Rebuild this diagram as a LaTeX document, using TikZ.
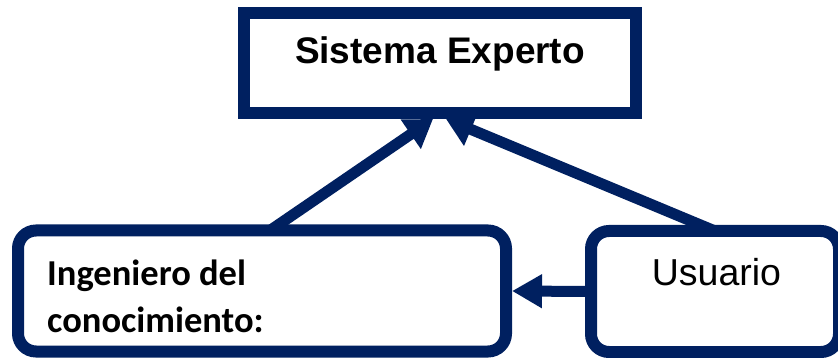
\documentclass[tikz,border=0pt]{standalone}
\usepackage{fontspec}
\setmainfont{Liberation Sans}
\newfontfamily\calfont{Carlito}
\usetikzlibrary{arrows.meta,backgrounds}
\definecolor{navy}{RGB}{0,32,96}
\tikzset{
  framebox/.style={draw=navy, line width=12pt, fill=white, inner sep=0pt},
  roundbox/.style={framebox, rounded corners=18pt},
  link/.style={draw=navy, line width=11pt},
  uptip/.style={-{Triangle[length=27pt,width=34pt]}},
  sidetip/.style={-{Triangle[length=30pt,width=32pt]}},
  label/.style={inner sep=0pt, text=black}
}
\begin{document}
\begin{tikzpicture}[x=1pt, y=-1pt]
  \useasboundingbox (0,0) rectangle (838,358);

  % boxes
  \node[framebox, minimum width=392pt, minimum height=100pt] (se) at (440,63) {};
  \node[roundbox, minimum width=488pt, minimum height=121pt] (ing) at (262,291) {};
  \node[roundbox, minimum width=248pt, minimum height=121pt] (usr) at (715,291.5) {};

  % texts
  \node[label, anchor=base,
        font={\fontsize{37}{44}\selectfont\bfseries}] (seT) at (440,64)
    {Sistema Experto};
  \node[label, anchor=base,
        font={\fontsize{37.5}{44}\selectfont}] (usrT) at (716.5,285)
    {Usuario};
  \node[label, anchor=north west, align=left,
        font={\calfont\fontsize{36.5}{47}\selectfont\bfseries}] (ingT) at (47,260)
    {Ingeniero del\\conocimiento:};

  % connectors, behind the boxes
  \begin{pgfonlayer}{background}
    \coordinate (ingTop) at ([xshift=8pt,yshift=-6pt]ing.north);
    \coordinate (usrTop) at ([yshift=-6pt]usr.north);
    \coordinate (usrLeft) at ([xshift=6pt]usr.west);
    \draw[link, uptip] (ingTop) -- ([xshift=-7pt]se.south);
    \draw[link, uptip] (usrTop) -- ([xshift=6pt]se.south);
    \draw[link, sidetip] (usrLeft) -- (ing.east);
  \end{pgfonlayer}
\end{tikzpicture}
\end{document}
